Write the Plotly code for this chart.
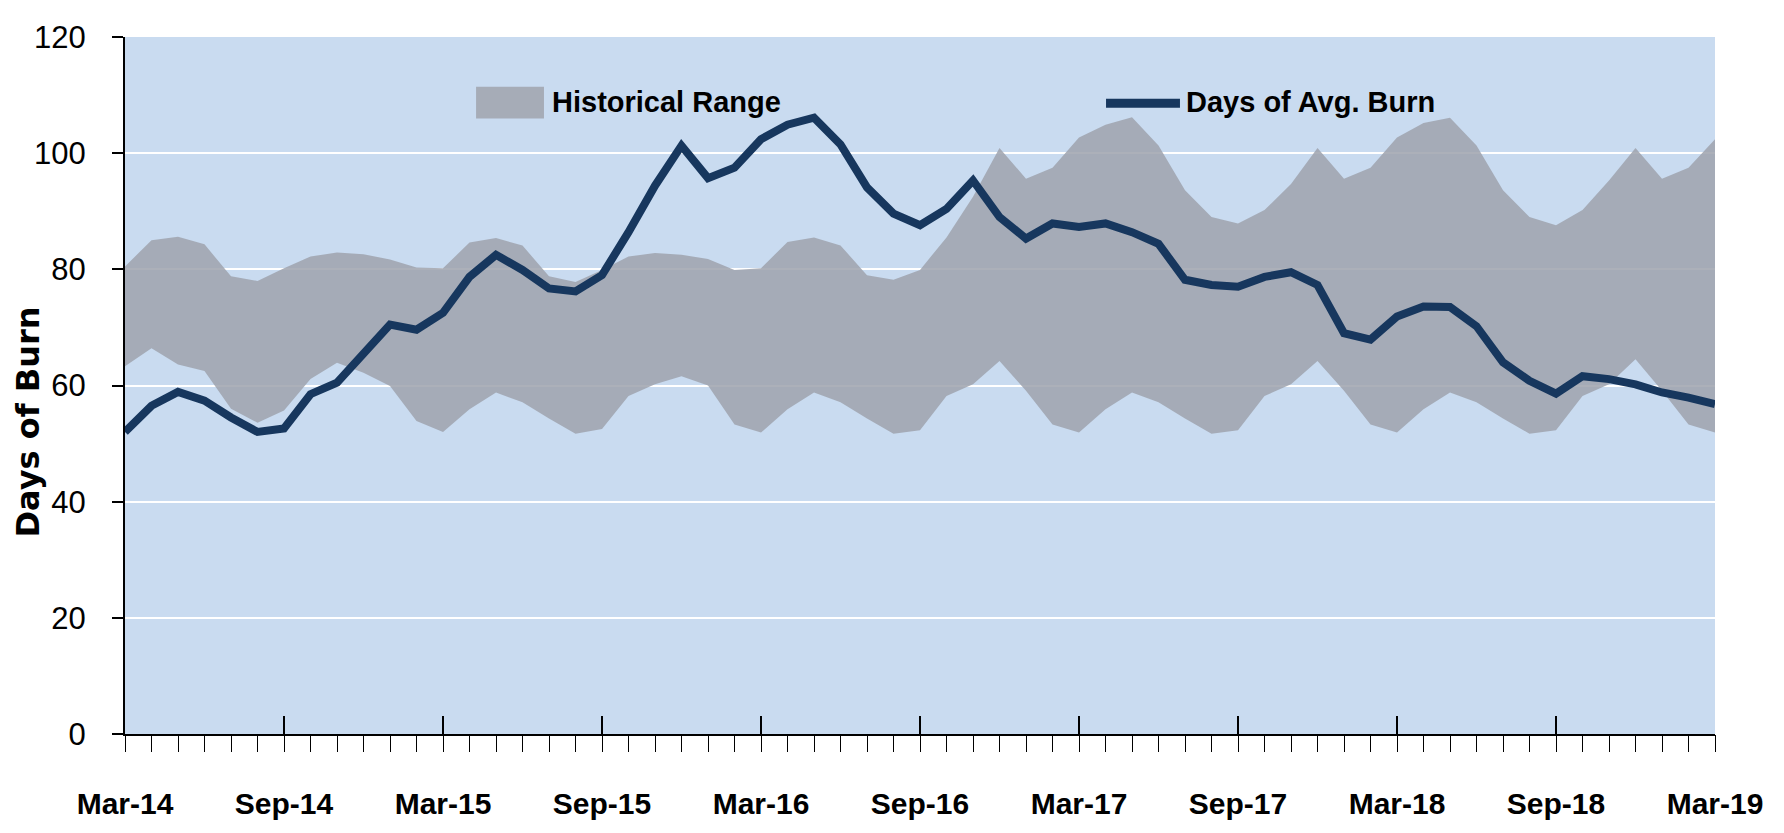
import plotly.graph_objects as go

# ---- data (monthly, Mar-14 .. Mar-19) ----
month_index = list(range(61))
tick_positions = [0, 6, 12, 18, 24, 30, 36, 42, 48, 54, 60]
tick_labels = ["Mar-14", "Sep-14", "Mar-15", "Sep-15", "Mar-16", "Sep-16",
               "Mar-17", "Sep-17", "Mar-18", "Sep-18", "Mar-19"]

days_of_avg_burn = [
    52.0, 56.5, 58.9, 57.4, 54.5, 52.0, 52.6, 58.5, 60.5, 65.4, 70.5, 69.6,
    72.5, 78.7, 82.5, 79.9, 76.7, 76.2, 79.0, 86.4, 94.4, 101.3, 95.7, 97.5,
    102.4, 104.9, 106.1, 101.5, 94.1, 89.6, 87.6, 90.4, 95.3, 89.0, 85.3, 87.9,
    87.3, 87.9, 86.4, 84.4, 78.2, 77.3, 77.0, 78.7, 79.5, 77.3, 69.0, 67.9,
    71.9, 73.6, 73.5, 70.2, 64.0, 60.8, 58.6, 61.6, 61.1, 60.2, 58.8, 57.9,
    56.8]

range_upper = [
    80.5, 85.0, 85.6, 84.3, 78.8, 78.0, 80.2, 82.2, 82.9, 82.6, 81.7, 80.3,
    80.2, 84.6, 85.4, 84.1, 78.8, 77.8, 79.9, 82.2, 82.8, 82.5, 81.8, 79.9,
    80.2, 84.7, 85.5, 84.1, 79.0, 78.2, 79.9, 85.5, 92.5, 100.9, 95.6, 97.5,
    102.7, 104.9, 106.2, 101.3, 93.6, 89.0, 87.9, 90.2, 94.7, 100.9, 95.6, 97.5,
    102.7, 105.2, 106.1, 101.3, 93.6, 89.0, 87.6, 90.2, 95.3, 100.9, 95.6, 97.5,
    102.4]

range_lower = [
    63.3, 66.4, 63.6, 62.5, 56.0, 53.6, 55.7, 61.1, 63.9, 62.2, 59.9, 53.9,
    52.0, 55.9, 58.8, 57.1, 54.3, 51.7, 52.5, 58.2, 60.2, 61.6, 60.0, 53.3,
    51.9, 55.9, 58.8, 57.1, 54.3, 51.7, 52.3, 58.2, 60.2, 64.2, 59.1, 53.3,
    51.9, 55.9, 58.8, 57.1, 54.3, 51.7, 52.3, 58.2, 60.2, 64.2, 59.1, 53.3,
    51.9, 55.9, 58.8, 57.1, 54.3, 51.7, 52.3, 58.2, 60.2, 64.5, 59.1, 53.3,
    51.9]

# ---- styles ----
NAVY = "#17375E"
BAND = "rgba(158,163,173,0.86)"
BAND_SOLID = "#A6ACB7"
PLOT_BG = "#C9DBF0"
SANS = "Liberation Sans, Arial, sans-serif"

fig = go.Figure()
fig.add_trace(go.Scatter(x=month_index, y=range_lower, mode="lines",
                         line=dict(width=0, color=BAND), hoverinfo="skip",
                         showlegend=False, name="Historical Range (low)"))
fig.add_trace(go.Scatter(x=month_index, y=range_upper, mode="lines",
                         line=dict(width=0, color=BAND), fill="tonexty",
                         fillcolor=BAND, name="Historical Range"))
fig.add_trace(go.Scatter(x=month_index, y=days_of_avg_burn, mode="lines",
                         line=dict(width=8, color=NAVY), name="Days of Avg. Burn",
                         xaxis="x2"))

# page body has an 8px default margin, so the figure is sized to fit inside it
fig.update_layout(
    width=1776, height=825,
    margin=dict(l=117, r=69, t=24, b=99),
    paper_bgcolor="white", plot_bgcolor=PLOT_BG,
    showlegend=False,
    xaxis=dict(range=[0, 60], tickmode="array", tickvals=tick_positions,
               ticktext=tick_labels, ticks="inside", ticklen=18, tickwidth=1.5,
               tickcolor="black", showline=True, linecolor="black", linewidth=2,
               showgrid=False, zeroline=False, ticklabelstandoff=42,
               tickfont=dict(family=SANS, size=30, color="black", weight="bold")),
    xaxis2=dict(range=[0, 60], overlaying="x", anchor="y", side="bottom",
                tickmode="linear", tick0=0, dtick=1, ticks="outside", ticklen=17,
                tickwidth=1.2, tickcolor="black", showticklabels=False,
                showgrid=False, zeroline=False, showline=False),
    yaxis=dict(range=[0, 120], tickmode="linear", tick0=0, dtick=20,
               ticks="outside", ticklen=11, tickwidth=1.5, tickcolor="black",
               showline=True, linecolor="black", linewidth=2,
               showgrid=True, gridcolor="white", gridwidth=2, zeroline=False,
               ticklabelstandoff=20,
               tickfont=dict(family=SANS, size=31, color="black")),
)

# y-axis title
fig.add_annotation(text="Days of Burn", xref="paper", yref="paper",
                   x=-0.0610, y=0.447, xanchor="center", yanchor="middle",
                   textangle=-90, showarrow=False, borderpad=0,
                   font=dict(family="DejaVu Sans, Verdana, sans-serif", size=32,
                             color="black", weight="bold"))

# legend (drawn inside the plot, as in the reference)
fig.add_shape(type="rect", xref="paper", yref="paper",
              x0=0.2208, x1=0.2635, y0=0.8832, y1=0.9288,
              fillcolor=BAND_SOLID, line=dict(width=0))
fig.add_annotation(text="Historical Range", xref="paper", yref="paper",
                   x=0.2673, y=0.907, xanchor="left", yanchor="middle",
                   showarrow=False,
                   font=dict(family=SANS, size=29, color="black", weight="bold"))
fig.add_shape(type="line", xref="paper", yref="paper",
              x0=0.6170, x1=0.6635, y0=0.905, y1=0.905,
              line=dict(color=NAVY, width=9))
fig.add_annotation(text="Days of Avg. Burn", xref="paper", yref="paper",
                   x=0.6660, y=0.907, xanchor="left", yanchor="middle",
                   showarrow=False,
                   font=dict(family=SANS, size=29, color="black", weight="bold"))

fig.write_html("out.html")
